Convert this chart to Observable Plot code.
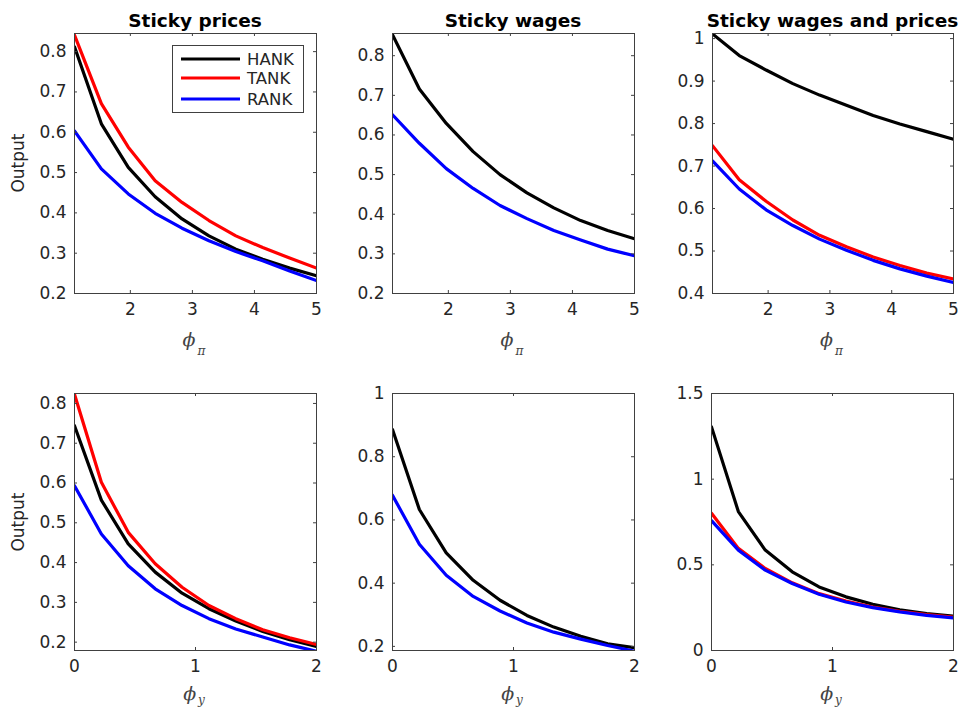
<!DOCTYPE html>
<html>
<head>
<meta charset="utf-8">
<script src="https://cdn.jsdelivr.net/npm/d3@7"></script>
<script src="https://cdn.jsdelivr.net/npm/@observablehq/plot@0.6"></script>
<style>
  html, body { margin: 0; padding: 0; background: #fff; }
  #fig { position: relative; width: 961px; height: 711px; overflow: hidden; background: #fff; font-family: "DejaVu Sans", sans-serif; color: #262626; }
  .panel { position: absolute; }
  .title { position: absolute; transform: translateX(-50%); font-weight: bold; font-size: 18.5px; line-height: 1; white-space: nowrap; color: #000; }
  .ylab { position: absolute; transform: translate(-50%, -50%) rotate(-90deg); font-size: 17px; line-height: 1; white-space: nowrap; }
  .xlab { position: absolute; transform: translateX(-50%); font-family: "DejaVu Serif", serif; font-style: italic; font-size: 19px; line-height: 1; white-space: nowrap; color: #444; }
  .xlab .sub { font-size: 12px; position: relative; top: 9px; margin-left: 2px; }
  .xlab.bottom .sub { top: 4px; }
  #legend { position: absolute; }
</style>
</head>
<body>
<div id="fig"></div>
<script>
// ---- data ----
const models = ["HANK", "TANK", "RANK"];
const modelColors = ["#000000", "#ff0000", "#0000ff"];
const panelTitles = ["Sticky prices", "Sticky wages", "Sticky wages and prices"];

const phiPi = [1.1, 1.533, 1.967, 2.4, 2.833, 3.267, 3.7, 4.133, 4.567, 5];
const phiY = [0, 0.222, 0.444, 0.667, 0.889, 1.111, 1.333, 1.556, 1.778, 2];

// Top row: output vs phi_pi
const pricesPiHANK = [0.812, 0.621, 0.513, 0.440, 0.385, 0.343, 0.310, 0.285, 0.263, 0.244];
const pricesPiTANK = [0.841, 0.671, 0.563, 0.480, 0.426, 0.381, 0.343, 0.314, 0.288, 0.263];
const pricesPiRANK = [0.603, 0.509, 0.447, 0.399, 0.362, 0.331, 0.304, 0.281, 0.256, 0.232];

const wagesPiHANK = [0.853, 0.716, 0.629, 0.558, 0.500, 0.454, 0.416, 0.384, 0.359, 0.338];
const wagesPiRANK = [0.651, 0.579, 0.515, 0.465, 0.422, 0.389, 0.359, 0.335, 0.312, 0.295];

const bothPiHANK = [1.011, 0.960, 0.926, 0.894, 0.867, 0.843, 0.819, 0.799, 0.781, 0.763];
const bothPiTANK = [0.748, 0.668, 0.617, 0.573, 0.537, 0.510, 0.486, 0.466, 0.448, 0.434];
const bothPiRANK = [0.712, 0.646, 0.597, 0.560, 0.528, 0.502, 0.478, 0.458, 0.441, 0.426];

// Bottom row: output vs phi_y
const pricesYHANK = [0.744, 0.557, 0.447, 0.376, 0.323, 0.284, 0.253, 0.227, 0.206, 0.189];
const pricesYTANK = [0.823, 0.602, 0.476, 0.397, 0.338, 0.292, 0.259, 0.231, 0.211, 0.194];
const pricesYRANK = [0.593, 0.472, 0.392, 0.334, 0.292, 0.259, 0.233, 0.213, 0.193, 0.177];

const wagesYHANK = [0.886, 0.633, 0.496, 0.409, 0.346, 0.298, 0.261, 0.232, 0.208, 0.196];
const wagesYRANK = [0.678, 0.523, 0.425, 0.358, 0.312, 0.274, 0.245, 0.223, 0.203, 0.185];

const bothYHANK = [1.305, 0.811, 0.586, 0.459, 0.371, 0.313, 0.270, 0.238, 0.215, 0.201];
const bothYTANK = [0.801, 0.596, 0.479, 0.395, 0.332, 0.289, 0.254, 0.229, 0.209, 0.195];
const bothYRANK = [0.758, 0.586, 0.469, 0.391, 0.328, 0.283, 0.250, 0.225, 0.205, 0.190];

// tick values
const xTicksPi = [2, 3, 4, 5];
const xTicksY = [0, 1, 2];
const yTicksA = [0.2, 0.3, 0.4, 0.5, 0.6, 0.7, 0.8];
const yTicksB = [0.4, 0.5, 0.6, 0.7, 0.8, 0.9, 1];
const yTicksC = [0.2, 0.4, 0.6, 0.8, 1];
const yTicksD = [0, 0.5, 1, 1.5];

// axis domains
const xDomainPi = [1.1, 5];
const xDomainY = [0, 2];

// ---- panels ----
const panels = [
  {title: panelTitles[0], xs: phiPi, series: {HANK: pricesPiHANK, TANK: pricesPiTANK, RANK: pricesPiRANK}, xDomain: xDomainPi, yDomain: [0.2, 0.845], xTicks: xTicksPi, yTicks: yTicksA, sub: "π", row: 0, col: 0, ylabel: true},
  {title: panelTitles[1], xs: phiPi, series: {HANK: wagesPiHANK, RANK: wagesPiRANK}, xDomain: xDomainPi, yDomain: [0.2, 0.856], xTicks: xTicksPi, yTicks: yTicksA, sub: "π", row: 0, col: 1},
  {title: panelTitles[2], xs: phiPi, series: {HANK: bothPiHANK, TANK: bothPiTANK, RANK: bothPiRANK}, xDomain: xDomainPi, yDomain: [0.4, 1.012], xTicks: xTicksPi, yTicks: yTicksB, sub: "π", row: 0, col: 2},
  {xs: phiY, series: {HANK: pricesYHANK, TANK: pricesYTANK, RANK: pricesYRANK}, xDomain: xDomainY, yDomain: [0.179, 0.825], xTicks: xTicksY, yTicks: yTicksA, sub: "y", row: 1, col: 0, ylabel: true},
  {xs: phiY, series: {HANK: wagesYHANK, RANK: wagesYRANK}, xDomain: xDomainY, yDomain: [0.187, 1], xTicks: xTicksY, yTicks: yTicksC, sub: "y", row: 1, col: 1},
  {xs: phiY, series: {HANK: bothYHANK, TANK: bothYTANK, RANK: bothYRANK}, xDomain: xDomainY, yDomain: [0, 1.5], xTicks: xTicksY, yTicks: yTicksD, sub: "y", row: 1, col: 2}
];

// layout (pixels)
const svgLefts = [0, 318, 638];
const marginLefts = [74, 74, 74];
const marginRights = [4, 4, 5];
const svgTops = [0, 360];
const svgW = 320, svgH = 325;
const marginTops = [33, 33];
const marginBottoms = [32, 35];

const fig = document.getElementById("fig");

panels.forEach((p, i) => {
  const ml = (p.row === 1 && p.col === 2) ? 73 : marginLefts[p.col];
  const mr = marginRights[p.col];
  const mt = marginTops[p.row];
  const mb = marginBottoms[p.row];
  const fw = svgW - ml - mr;
  const fh = svgH - mt - mb;
  const rows = [];
  models.forEach(m => {
    const ys = p.series[m];
    if (!ys) return;
    p.xs.forEach((x, j) => rows.push({model: m, x, y: ys[j]}));
  });
  const plot = Plot.plot({
    width: svgW, height: svgH,
    marginLeft: ml, marginRight: mr, marginTop: mt, marginBottom: mb,
    style: {fontFamily: "DejaVu Sans, sans-serif", fontSize: "17px", color: "#262626", background: "transparent", overflow: "visible", maxWidth: "none"},
    x: {type: "linear", domain: p.xDomain},
    y: {type: "linear", domain: p.yDomain},
    color: {domain: models, range: modelColors},
    marks: [
      Plot.line(rows, {x: "x", y: "y", stroke: "model", z: "model", strokeWidth: 3.2, clip: true, strokeLinejoin: "round"}),
      Plot.frame({stroke: "#404040", strokeWidth: 1}),
      Plot.tickX(p.xTicks, {x: d => d, insetTop: fh - 3, stroke: "#404040"}),
      Plot.tickX(p.xTicks, {x: d => d, insetBottom: fh - 3, stroke: "#404040"}),
      Plot.tickY(p.yTicks, {y: d => d, insetRight: fw - 3, stroke: "#404040"}),
      Plot.tickY(p.yTicks, {y: d => d, insetLeft: fw - 3, stroke: "#404040"}),
      Plot.axisX(p.xTicks, {tickSize: 0, tickPadding: 9, label: null, tickFormat: d => String(d)}),
      Plot.axisY(p.yTicks, {tickSize: 0, tickPadding: 8, label: null, tickFormat: d => String(d)})
    ]
  });
  const holder = document.createElement("div");
  holder.className = "panel";
  holder.style.left = svgLefts[p.col] + "px";
  holder.style.top = svgTops[p.row] + "px";
  holder.style.width = svgW + "px";
  holder.style.height = svgH + "px";
  holder.appendChild(plot);
  fig.appendChild(holder);

  const cx = svgLefts[p.col] + ml + fw / 2;
  if (p.title) {
    const t = document.createElement("div");
    t.className = "title";
    t.textContent = p.title;
    t.style.left = cx + "px";
    t.style.top = "12px";
    fig.appendChild(t);
  }
  const xl = document.createElement("div");
  xl.className = p.row === 0 ? "xlab" : "xlab bottom";
  xl.innerHTML = "ϕ<span class=\"sub\">" + p.sub + "</span>";
  xl.style.left = (cx - 1) + "px";
  xl.style.top = (p.row === 0 ? 330 : 684) + "px";
  fig.appendChild(xl);
  if (p.ylabel) {
    const yl = document.createElement("div");
    yl.className = "ylab";
    yl.textContent = "Output";
    yl.style.left = "18px";
    yl.style.top = (svgTops[p.row] + mt + fh / 2) + "px";
    fig.appendChild(yl);
  }
});

// legend (top-left panel)
const lg = d3.select(fig).append("svg")
  .attr("id", "legend")
  .attr("width", 133).attr("height", 69)
  .style("left", "172px").style("top", "45px");
lg.append("rect").attr("x", 0.5).attr("y", 0.5).attr("width", 131).attr("height", 67)
  .attr("fill", "#fff").attr("stroke", "#404040");
const legRowY = [14, 33, 54];
models.forEach((m, k) => {
  lg.append("line").attr("x1", 9).attr("x2", 68).attr("y1", legRowY[k]).attr("y2", legRowY[k])
    .attr("stroke", modelColors[k]).attr("stroke-width", 3.2);
  lg.append("text").attr("x", 75).attr("y", legRowY[k]).attr("dy", "0.36em")
    .attr("font-family", "DejaVu Sans, sans-serif").attr("font-size", 16.5).attr("fill", "#262626")
    .text(m);
});
</script>
</body>
</html>
